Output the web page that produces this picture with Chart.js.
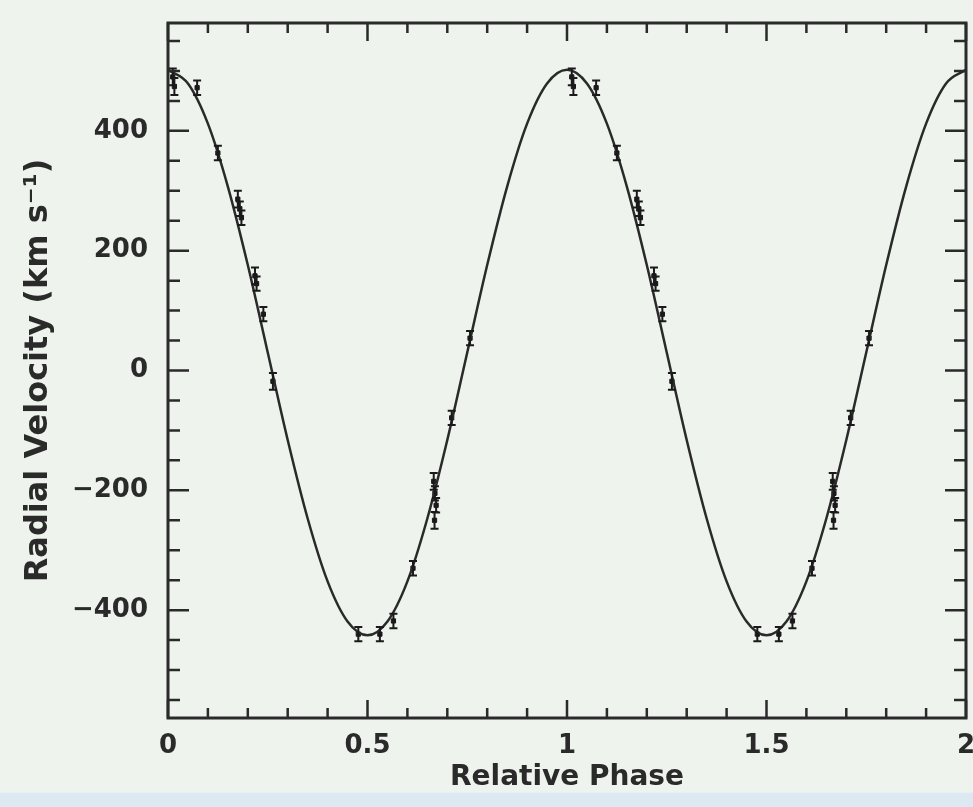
<!DOCTYPE html>
<html>
<head>
<meta charset="utf-8">
<script src="https://cdn.jsdelivr.net/npm/chart.js@4.4.1/dist/chart.umd.min.js"></script>
<style>
  html, body { margin: 0; padding: 0; background: #eef3ed; }
  #wrap { position: relative; width: 973px; height: 807px; }
  #band { position: absolute; left: 0; bottom: 0; width: 973px; height: 14px; background: #dce8f2; border-top: 1px solid #e8f0f6; }
</style>
</head>
<body>
<div id="wrap">
  <canvas id="rvChart" width="973" height="807"></canvas>
  <div id="band"></div>
</div>
<script>
// ================= DATA =================
// fitted orbit, every 0.05 in phase
const curvePhase = [0, 0.05, 0.1, 0.15, 0.2, 0.25, 0.3, 0.35, 0.4, 0.45, 0.5, 0.55, 0.6, 0.65, 0.7, 0.75, 0.8, 0.85, 0.9, 0.95,
                    1, 1.05, 1.1, 1.15, 1.2, 1.25, 1.3, 1.35, 1.4, 1.45, 1.5, 1.55, 1.6, 1.65, 1.7, 1.75, 1.8, 1.85, 1.9, 1.95, 2];
const curveVel = [502, 479, 412, 307, 176, 30, -116, -247, -352, -419, -442, -419, -352, -247, -116, 30, 176, 307, 412, 479,
                  502, 479, 412, 307, 176, 30, -116, -247, -352, -419, -442, -419, -352, -247, -116, 30, 176, 307, 412, 479, 502];

// measured velocities (plotted over two cycles)
const obsPhase = [0.012, 0.016, 0.073, 0.125, 0.175, 0.180, 0.184, 0.218, 0.222, 0.239, 0.263,
                  0.477, 0.531, 0.565, 0.614, 0.666, 0.669, 0.672, 0.668, 0.711, 0.757,
                  1.012, 1.016, 1.073, 1.125, 1.175, 1.180, 1.184, 1.218, 1.222, 1.239, 1.263,
                  1.477, 1.531, 1.565, 1.614, 1.666, 1.669, 1.672, 1.668, 1.711, 1.757];
const obsVel = [490, 474, 472, 363, 286, 270, 255, 158, 145, 94, -18,
                -440, -440, -418, -330, -185, -205, -225, -250, -79, 54,
                490, 474, 472, 363, 286, 270, 255, 158, 145, 94, -18,
                -440, -440, -418, -330, -185, -205, -225, -250, -79, 54];
const obsErr = [14, 14, 12, 12, 14, 12, 12, 14, 12, 12, 14,
                12, 12, 12, 12, 14, 12, 12, 14, 12, 12,
                14, 14, 12, 12, 14, 12, 12, 14, 12, 12, 14,
                12, 12, 12, 12, 14, 12, 12, 14, 12, 12];

const xTickValues = [0, 0.5, 1, 1.5, 2];
const xTickLabels = ["0", "0.5", "1", "1.5", "2"];
const yTickValues = [-400, -200, 0, 200, 400];
const yTickLabels = ["\u2212400", "\u2212200", "0", "200", "400"];

const ink = "#2a2a2a";

// ================= PLUGINS =================
// frame with inward ticks on all four sides
const framePlugin = {
  id: "frame",
  afterDraw(chart) {
    const { ctx, chartArea: a, scales: { x, y } } = chart;
    ctx.save();
    ctx.strokeStyle = ink;
    ctx.lineWidth = 3;
    ctx.strokeRect(a.left, a.top, a.right - a.left, a.bottom - a.top);
    ctx.lineWidth = 2.5;
    ctx.beginPath();
    for (let i = 0; i <= 20; i++) {
      const v = i / 10;
      const px = x.getPixelForValue(v);
      const len = (i % 5 === 0) ? 18 : 10;
      ctx.moveTo(px, a.bottom); ctx.lineTo(px, a.bottom - len);
      ctx.moveTo(px, a.top); ctx.lineTo(px, a.top + len);
    }
    for (let v = -550; v <= 550; v += 50) {
      const py = y.getPixelForValue(v);
      const len = (v % 200 === 0) ? 21 : 12;
      ctx.moveTo(a.left, py); ctx.lineTo(a.left + len, py);
      ctx.moveTo(a.right, py); ctx.lineTo(a.right - len, py);
    }
    ctx.stroke();
    ctx.restore();
  }
};

// vertical error bars with small caps
const errorBarPlugin = {
  id: "errbars",
  afterDatasetsDraw(chart) {
    const { ctx, scales: { x, y } } = chart;
    ctx.save();
    ctx.strokeStyle = "#1a1a1a";
    ctx.lineWidth = 2;
    ctx.beginPath();
    for (let i = 0; i < obsPhase.length; i++) {
      const px = x.getPixelForValue(obsPhase[i]);
      const top = y.getPixelForValue(obsVel[i] + obsErr[i]);
      const bot = y.getPixelForValue(obsVel[i] - obsErr[i]);
      ctx.moveTo(px, top); ctx.lineTo(px, bot);
      ctx.moveTo(px - 4, top); ctx.lineTo(px + 4, top);
      ctx.moveTo(px - 4, bot); ctx.lineTo(px + 4, bot);
    }
    ctx.stroke();
    ctx.restore();
  }
};

// ================= CHART =================
const tickFont = { family: "DejaVu Sans", size: 26, weight: "bold" };

new Chart(document.getElementById("rvChart"), {
  type: "scatter",
  data: {
    datasets: [
      {
        label: "Orbit",
        data: curvePhase.map((p, i) => ({ x: p, y: curveVel[i] })),
        showLine: true,
        borderColor: ink,
        borderWidth: 2.5,
        pointRadius: 0,
        cubicInterpolationMode: "monotone"
      },
      {
        label: "Observed",
        data: obsPhase.map((p, i) => ({ x: p, y: obsVel[i] })),
        pointStyle: "rect",
        pointRadius: 3,
        backgroundColor: "#1a1a1a",
        borderColor: "#1a1a1a",
        borderWidth: 1
      }
    ]
  },
  options: {
    responsive: false,
    animation: false,
    layout: { padding: { top: 23, right: 7, left: 0, bottom: 0 } },
    plugins: { legend: { display: false }, tooltip: { enabled: false } },
    scales: {
      x: {
        type: "linear",
        min: 0,
        max: 2,
        grid: { display: false, drawTicks: false },
        border: { display: false },
        afterBuildTicks: (s) => { s.ticks = xTickValues.map(v => ({ value: v })); },
        afterFit: (s) => { s.height = 89; s.paddingLeft = 0; s.paddingRight = 0; },
        ticks: {
          padding: 13,
          color: ink,
          font: tickFont,
          maxRotation: 0,
          autoSkip: false,
          callback: (v) => xTickLabels[xTickValues.indexOf(v)]
        },
        title: {
          display: true,
          text: "Relative Phase",
          color: ink,
          font: { family: "DejaVu Sans", size: 28, weight: "bold" },
          padding: { top: 0, bottom: 12 }
        }
      },
      y: {
        type: "linear",
        min: -580,
        max: 580,
        grid: { display: false, drawTicks: false },
        border: { display: false },
        afterBuildTicks: (s) => { s.ticks = yTickValues.map(v => ({ value: v })); },
        afterFit: (s) => { s.width = 168; s.paddingTop = 0; s.paddingBottom = 0; },
        ticks: {
          padding: 20,
          color: ink,
          font: tickFont,
          autoSkip: false,
          callback: (v) => yTickLabels[yTickValues.indexOf(v)]
        },
        title: {
          display: true,
          text: "Radial Velocity (km s\u207B\u00B9)",
          color: ink,
          font: { family: "DejaVu Sans", size: 32, weight: "bold" },
          padding: { top: 19, bottom: 0 }
        }
      }
    }
  },
  plugins: [framePlugin, errorBarPlugin]
});
</script>
</body>
</html>
